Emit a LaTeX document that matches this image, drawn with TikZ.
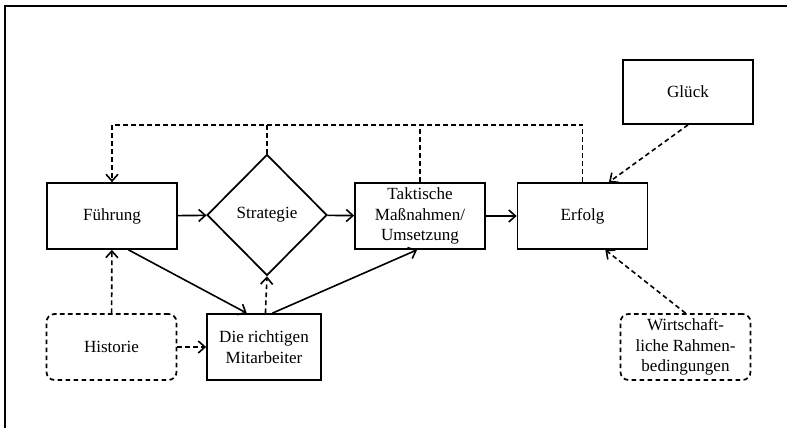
\documentclass[tikz,border=0pt]{standalone}
\usepackage{fontspec}
\setmainfont{Liberation Serif}
\usetikzlibrary{positioning}
\usetikzlibrary{shapes}
\usetikzlibrary{arrows.meta}

\begin{document}
\begin{tikzpicture}[x=0.75pt, y=-0.75pt, font=\fontsize{12.8}{15.5}\selectfont,
            n/.style={rectangle, draw, line width=1.3pt, minimum width=97.5pt, minimum height=49.5pt, inner sep=0pt, align=center},
            d/.style={n, dash pattern=on 3.5pt off 2.5pt, rounded corners=6pt},
            r/.style={diamond, draw, line width=1.3pt, minimum width=90pt, minimum height=90.75pt, inner sep=0pt},
            a/.style={line width=1.2pt, -{Straight Barb[length=5pt,width=9pt]}},
            fb/.style={line width=1.2pt, dash pattern=on 3.5pt off 2.5pt}]
            \useasboundingbox (0,0) rectangle (787,428);
            \draw[line width=1.6pt] (5,428) -- (5,6) -- (787,6);

            \node[n] (f) at (112, 216) {Führung};
            \node[r] (s) at (267, 215) {Strategie};
            \node[n] (t) at (420, 216) {Taktische\\Maßnahmen/\\Umsetzung};
            \node[n] (e) at (582.5, 216) {Erfolg};
            \node[n, minimum height=48pt] (g) at (688, 92) {Glück};
            \node[d] (h) at (111.5, 347) {Historie};
            \node[n, minimum width=85.5pt] (m) at (264, 347) {Die richtigen\\Mitarbeiter};
            \node[d] (w) at (685.5, 347) {Wirtschaft-\\liche Rahmen-\\bedingungen};
            \coordinate (k) at (0, 125);

            \draw[a] (f) -- (s);
            \draw[a] (s) -- (t);
            \draw[a] (t) -- (e);
            \draw[a] (f.-64) -- (m.117);
            \draw[a] (m.76) -- (t.-95);
            \draw[a, fb] (h) -- (m);
            \draw[a, fb] (h) -- (f);
            \draw[a, fb] (m) -- (s.south);
            \draw[a, fb] (g.south) -- (e.52);
            \draw[a, fb] (w.north) -- (e.-56);
            \draw[a, fb] (e.north) |- (k -| f.north) -- (f.north);
            \draw[fb] (s.north) -- (s.north |- k);
            \draw[fb] (t.north) -- (t.north |- k);
        \end{tikzpicture}
\end{document}
